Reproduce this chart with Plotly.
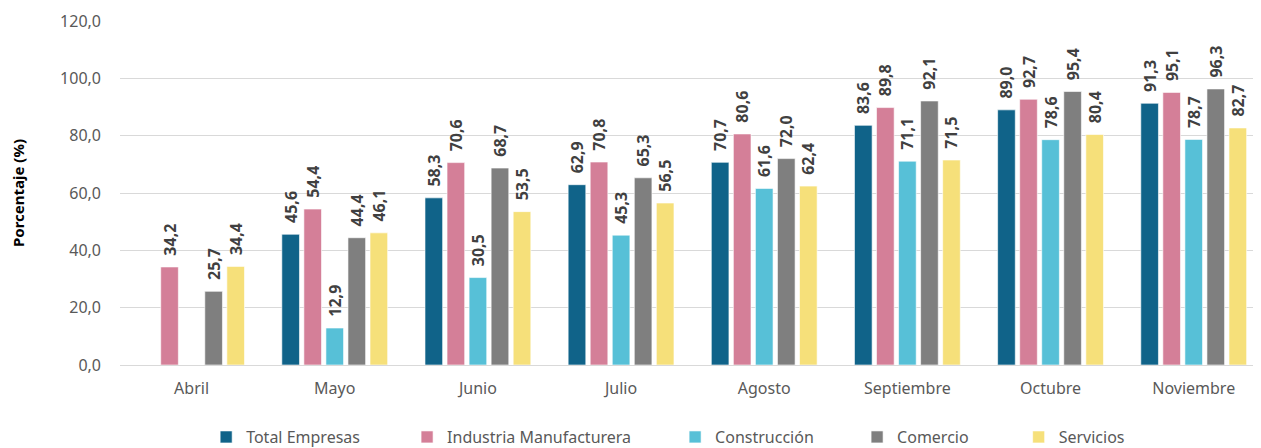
import plotly.graph_objects as go

months = ["Abril", "Mayo", "Junio", "Julio", "Agosto", "Septiembre", "Octubre", "Noviembre"]
total_empresas = [None, 45.6, 58.3, 62.9, 70.7, 83.6, 89.0, 91.3]
industria = [34.2, 54.4, 70.6, 70.8, 80.6, 89.8, 92.7, 95.1]
construccion = [None, 12.9, 30.5, 45.3, 61.6, 71.1, 78.6, 78.7]
comercio = [25.7, 44.4, 68.7, 65.3, 72.0, 92.1, 95.4, 96.3]
servicios = [34.4, 46.1, 53.5, 56.5, 62.4, 71.5, 80.4, 82.7]

series_names = ["Total Empresas", "Industria Manufacturera", "Construcción", "Comercio", "Servicios"]
series_values = [total_empresas, industria, construccion, comercio, servicios]
series_colors = ["#106389", "#D47F98", "#57C0D7", "#7F7F7F", "#F6E07A"]
legend_x = [0.0755, 0.2516, 0.4865, 0.6460, 0.7876]

FONT = "Segoe UI, Noto Sans, sans-serif"

fig = go.Figure()
legend_ids = ["legend", "legend2", "legend3", "legend4", "legend5"]
for name, vals, color, lid in zip(series_names, series_values, series_colors, legend_ids):
    fig.add_trace(go.Bar(
        name=name, x=months, y=vals, legend=lid,
        marker=dict(color=color, line=dict(color="rgba(255,255,255,0.6)", width=1)),
        texttemplate="\u00a0\u00a0%{y:.1f}", textposition="outside", textangle=-90,
        constraintext="none",
        textfont=dict(family=FONT, size=16, color="#404040", weight="bold"),
        cliponaxis=False,
    ))

layout_legends = {}
for lid, lx in zip(legend_ids, legend_x):
    layout_legends[lid] = dict(
        orientation="h", x=lx, xanchor="left", y=-0.16, yanchor="top",
        font=dict(size=16, color="#595959"), itemwidth=30,
        bgcolor="rgba(0,0,0,0)",
    )

fig.update_layout(
    width=1253, height=440,
    margin=dict(l=112, r=0, t=13, b=83, autoexpand=False),
    paper_bgcolor="white", plot_bgcolor="white",
    separators=",.",
    barmode="group", bargap=0.23, bargroupgap=0.2,
    font=dict(family=FONT, color="#595959", size=16),
    xaxis=dict(showgrid=False, showline=False, ticks="", automargin=False,
               range=[-0.5, 7.47],
               ticklabelstandoff=12,
               tickfont=dict(size=16, color="#595959")),
    yaxis=dict(range=[0, 120], dtick=20, tickformat=".1f", automargin=False,
               gridcolor="#D9D9D9", gridwidth=1, zeroline=True,
               zerolinecolor="#D9D9D9", zerolinewidth=1,
               tickfont=dict(size=16, color="#595959"), ticklabelstandoff=18,
               title=dict(text="<b>Porcentaje (%)</b>", font=dict(size=15, color="#000000"),
                          standoff=33)),
    showlegend=True,
    **layout_legends,
)

fig.write_html("out.html")
